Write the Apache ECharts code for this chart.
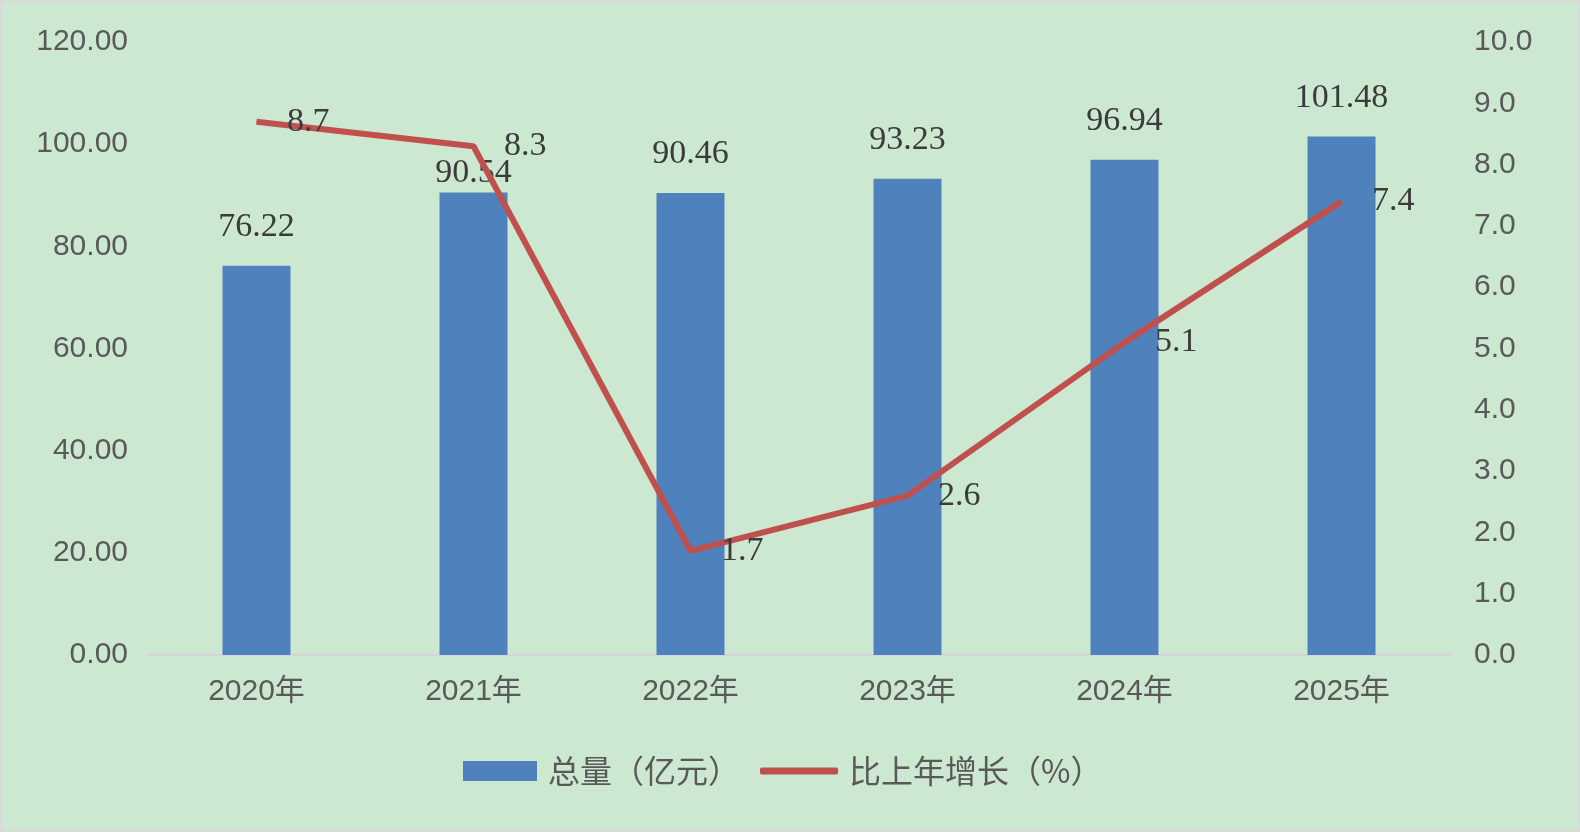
<!DOCTYPE html>
<html>
<head>
<meta charset="utf-8">
<script src="https://cdn.jsdelivr.net/npm/echarts@6/dist/echarts.min.js"></script>
<style>
  html, body { margin: 0; padding: 0; background: #fff; }
  #chart { width: 1576px; height: 828px; border: 2px solid #d9d9d9; background: #cde8d0; }
</style>
</head>
<body>
<div id="chart"></div>
<script>
const years = ['2020年', '2021年', '2022年', '2023年', '2024年', '2025年']
const totals = [76.22, 90.54, 90.46, 93.23, 96.94, 101.48]
const growth = [8.7, 8.3, 1.7, 2.6, 5.1, 7.4]

const axisFont = 'Liberation Sans, Noto Sans CJK SC, sans-serif'
const labelFont = 'Liberation Serif, Noto Sans CJK SC, serif'
const legendText = { fontSize: 32, color: '#595959', fontFamily: 'Noto Sans CJK SC, sans-serif', padding: [0, 0, 0, 6] }

const chart = echarts.init(document.getElementById('chart'))
chart.setOption({
  backgroundColor: '#cde8d0',
  animation: false,
  grid: { left: 146, right: 128, top: 40, bottom: 175 },
  legend: [
    {
      top: 748, left: 456,
      itemWidth: 74, itemHeight: 20,
      textStyle: legendText,
      data: [{ name: '总量（亿元）', icon: 'rect' }]
    },
    {
      top: 748, left: 753,
      itemWidth: 78, itemHeight: 7,
      textStyle: legendText,
      data: [{ name: '比上年增长（%）', icon: 'roundRect' }]
    }
  ],
  xAxis: {
    type: 'category',
    data: years,
    axisTick: { show: false },
    axisLine: { lineStyle: { color: '#d9d2d9', width: 2 } },
    axisLabel: { fontSize: 30, color: '#595959', margin: 22, fontFamily: axisFont }
  },
  yAxis: [
    {
      type: 'value',
      min: 0, max: 120, interval: 20,
      splitLine: { show: false },
      axisLabel: {
        fontSize: 30, color: '#595959', margin: 20, fontFamily: axisFont,
        formatter: v => v.toFixed(2)
      }
    },
    {
      type: 'value',
      min: 0, max: 10, interval: 1,
      splitLine: { show: false },
      axisLabel: {
        fontSize: 30, color: '#595959', margin: 24, fontFamily: axisFont,
        formatter: v => v.toFixed(1)
      }
    }
  ],
  series: [
    {
      name: '总量（亿元）',
      type: 'bar',
      // 2021 label sits lower in the original to clear the line
      data: totals.map((v, i) => i === 1 ? { value: v, label: { distance: 2 } } : v),
      barWidth: 68,
      itemStyle: { color: '#4f81bd' },
      label: {
        show: true, position: 'top', distance: 22,
        fontSize: 34, color: '#3b3b3b', fontFamily: labelFont
      }
    },
    {
      name: '比上年增长（%）',
      type: 'line',
      yAxisIndex: 1,
      data: growth,
      symbol: 'circle',
      symbolSize: 1,
      showSymbol: true,
      lineStyle: { color: '#c0504d', width: 6 },
      itemStyle: { color: '#c0504d' },
      label: {
        show: true, position: 'right', distance: 30,
        fontSize: 34, color: '#3b3b3b', fontFamily: labelFont
      }
    }
  ]
})
</script>
</body>
</html>
